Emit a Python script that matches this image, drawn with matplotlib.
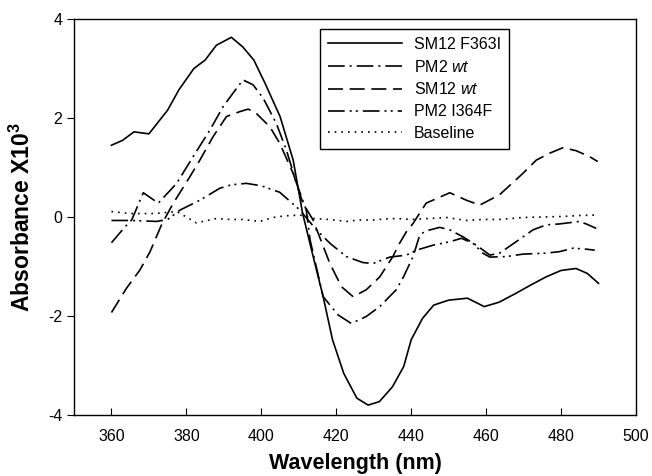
import matplotlib
matplotlib.use("Agg")
import matplotlib.pyplot as plt

plt.rcParams['font.family'] = ['Liberation Sans', 'DejaVu Sans']
plt.rcParams['mathtext.fontset'] = 'custom'
plt.rcParams['mathtext.rm'] = 'Liberation Sans'
plt.rcParams['mathtext.it'] = 'Liberation Sans:italic'
plt.rcParams['mathtext.bf'] = 'Liberation Sans:bold'
plt.rcParams['axes.unicode_minus'] = False

# ---- data ----
sm12_f363i_x = [360, 363, 366, 370, 375, 378, 382, 385, 388, 392, 395, 398, 401, 405, 408.5,
                411, 414, 416.5, 419, 422, 425.5, 428.5, 431.5, 435, 438, 440, 443, 446, 450,
                455, 459.5, 463.5, 468, 472, 476, 480, 484, 487, 490]
sm12_f363i_y = [1.45, 1.55, 1.72, 1.68, 2.16, 2.57, 3.0, 3.17, 3.47, 3.63, 3.44, 3.17, 2.70, 2.03, 1.15,
                0.08, -0.85, -1.61, -2.48, -3.16, -3.66, -3.80, -3.73, -3.43, -3.02, -2.48, -2.05, -1.78, -1.68,
                -1.64, -1.81, -1.72, -1.54, -1.37, -1.21, -1.08, -1.04, -1.14, -1.34]

pm2_wt_x = [360, 363.6, 365.4, 368.5, 372.5, 377.4, 381.8, 386.3, 389.8, 393.4, 395.1, 397.8, 400.5,
            404, 406.7, 409.4, 412, 413, 416.5, 420.5, 424, 428, 431.6, 436, 438, 440.5, 442.3, 444,
            447.6, 450.3, 453.8, 457.4, 461, 463.6, 468, 472.5, 476, 479.6, 484.9, 486.7, 489.4]
pm2_wt_y = [-0.52, -0.2, -0.06, 0.49, 0.28, 0.68, 1.22, 1.76, 2.23, 2.6, 2.77, 2.67, 2.4,
            1.89, 1.35, 0.68, 0.14, -0.46, -1.61, -1.98, -2.15, -2.01, -1.81, -1.47, -1.2, -0.8, -0.36, -0.28,
            -0.21, -0.26, -0.4, -0.57, -0.77, -0.73, -0.5, -0.26, -0.16, -0.14, -0.09, -0.14, -0.23]

sm12_wt_x = [360, 364, 367.6, 370.3, 373.4, 376.5, 380.9, 383.6, 387.1, 390.7, 394.3, 396.5, 398.7,
             402.3, 404.9, 408.5, 411.1, 413.8, 418.3, 421.4, 424.5, 428, 431.6, 435.1, 436.9, 438.7,
             440.5, 444, 450.3, 454.7, 458.3, 463.6, 469.8, 473.4, 477, 480.5, 484, 487.6, 489.8]
sm12_wt_y = [-1.93, -1.44, -1.07, -0.7, -0.15, 0.28, 0.81, 1.15, 1.62, 2.03, 2.13, 2.18, 2.09,
             1.82, 1.49, 0.88, 0.28, -0.06, -0.94, -1.41, -1.61, -1.47, -1.21, -0.8, -0.53, -0.3,
             -0.13, 0.28, 0.49, 0.34, 0.24, 0.45, 0.88, 1.15, 1.29, 1.4, 1.34, 1.22, 1.12]

pm2_i364f_x = [360, 365, 369, 372, 375, 378.3, 383.6, 388.9, 392, 396, 400, 404.9, 410.3, 414.7,
               418.3, 422.7, 427.1, 429.8, 434.3, 438.7, 441.4, 445.8, 450.3, 453.4, 456.5, 459.1,
               461, 465.4, 469.8, 476, 479.6, 483.2, 486.7, 489]
pm2_i364f_y = [-0.07, -0.07, -0.08, -0.09, -0.05, 0.14, 0.34, 0.58, 0.65, 0.68, 0.63, 0.5, 0.14, -0.26,
               -0.53, -0.8, -0.92, -0.94, -0.81, -0.77, -0.67, -0.57, -0.5, -0.43, -0.53, -0.73,
               -0.81, -0.8, -0.75, -0.73, -0.7, -0.63, -0.65, -0.67]

baseline_x = [360, 365, 371.6, 377.4, 380, 382.7, 385, 388, 391.6, 395, 399.6, 403.1, 406, 410.3,
              413.8, 418, 422.7, 426, 429.8, 433, 436, 440, 445, 449.4, 454.7, 459, 463.6, 469.8,
              475, 480, 485, 489.4]
baseline_y = [0.11, 0.07, 0.07, 0.11, 0.0, -0.12, -0.08, -0.03, -0.05, -0.05, -0.09, -0.01, 0.02, 0.04,
              -0.03, -0.05, -0.09, -0.06, -0.06, -0.04, -0.03, -0.05, -0.03, -0.01, -0.07, -0.05, -0.05, -0.01,
              0.0, 0.01, 0.03, 0.04]

labels = ['SM12 F363I', 'PM2 $\\it{wt}$', 'SM12 $\\it{wt}$', 'PM2 I364F', 'Baseline']
xticks = [360, 380, 400, 420, 440, 460, 480, 500]
yticks = [-4, -2, 0, 2, 4]

# ---- figure ----
fig = plt.figure(figsize=(6.52, 4.76), dpi=100)
ax = fig.add_axes([74/652, 1-415/476, (636-74)/652, (415-19)/476])

lw = 1.2
ax.plot(sm12_f363i_x, sm12_f363i_y, color='black', lw=lw, ls='-', label=labels[0])
ax.plot(pm2_wt_x, pm2_wt_y, color='black', lw=lw, ls=(0, (10, 3, 1.2, 3)), label=labels[1])
ax.plot(sm12_wt_x, sm12_wt_y, color='black', lw=lw, ls=(0, (9, 4)), label=labels[2])
ax.plot(pm2_i364f_x, pm2_i364f_y, color='black', lw=lw, ls=(0, (10, 3, 1.2, 2.5, 1.2, 3)), label=labels[3])
ax.plot(baseline_x, baseline_y, color='black', lw=lw, ls=(0, (1, 3)), label=labels[4])

ax.set_xlim(350, 500)
ax.set_ylim(-4, 4)
ax.set_xticks(xticks)
ax.set_yticks(yticks)
ax.tick_params(axis='x', direction='in', length=5, labelsize=11.5, pad=10)
ax.tick_params(axis='y', direction='out', length=5, labelsize=11.5)
for s in ax.spines.values():
    s.set_linewidth(1.0)
    s.set_color('black')

ax.set_xlabel('Wavelength (nm)', fontsize=15.5, fontweight='bold')
ax.xaxis.set_label_coords(0.5, -0.095)
ax.set_ylabel('Absorbance X10$^\\mathbf{3}$', fontsize=16.5, fontweight='bold', labelpad=9)

leg = ax.legend(loc='upper right', bbox_to_anchor=((509-74)/562, (415-29)/396),
                fontsize=11.5, handlelength=4.6, labelspacing=0.42, borderpad=0.5,
                fancybox=False, framealpha=1, edgecolor='black', borderaxespad=0,
                handletextpad=0.75)
leg.get_frame().set_linewidth(1.0)

fig.savefig('out.png', dpi=100)
